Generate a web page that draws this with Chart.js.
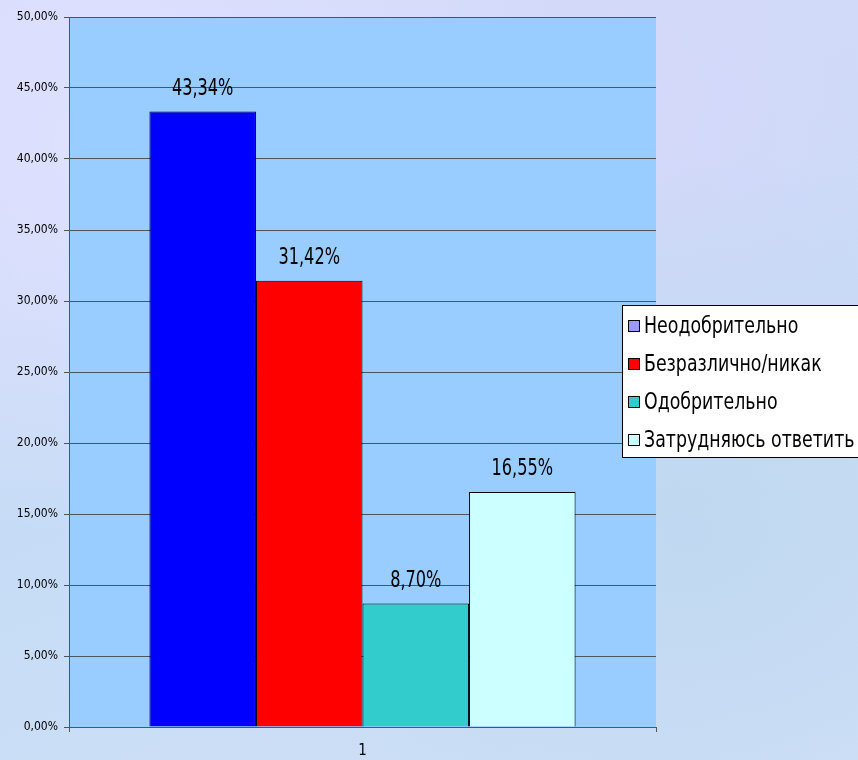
<!DOCTYPE html>
<html>
<head>
<meta charset="utf-8">
<script src="https://cdn.jsdelivr.net/npm/chart.js@4"></script>
<style>
  html, body { margin: 0; padding: 0; }
  body {
    width: 858px; height: 760px; overflow: hidden;
    background:
      radial-gradient(ellipse at 15% 20%, rgba(225,225,255,0.9), rgba(225,225,255,0) 45%),
      radial-gradient(ellipse at 80% 70%, rgba(190,215,240,0.8), rgba(190,215,240,0) 50%),
      radial-gradient(ellipse at 75% 15%, rgba(215,215,250,0.8), rgba(215,215,250,0) 45%),
      linear-gradient(160deg, #d6dcfa 0%, #c6dcf6 50%, #cfe0f6 100%);
  }
  #wrap { position: relative; width: 858px; height: 760px; }
</style>
</head>
<body>
<div id="wrap"><canvas id="myChart" width="858" height="760"></canvas></div>
<script>
const categories = ['1'];
const seriesNames = ['Неодобрительно', 'Безразлично/никак', 'Одобрительно', 'Затрудняюсь ответить'];
const seriesValues = [43.34, 31.42, 8.70, 16.55];
const barColors = ['#0000FF', '#FF0000', '#33CCCC', '#CCFFFF'];
const legendColors = ['#9999FF', '#FF0000', '#33CCCC', '#CCFFFF'];
const yTicks = [0, 5, 10, 15, 20, 25, 30, 35, 40, 45, 50];

const fontFamily = "'Liberation Sans Narrow', 'DejaVu Sans Condensed', 'Arial Narrow', sans-serif";

function pct(v) {
    return v.toFixed(2).replace('.', ',') + '%';
}

// text squeezed horizontally, to look like Arial Narrow
function narrowText(ctx, text, x, y, sx) {
    ctx.save();
    ctx.translate(x, y);
    ctx.scale(sx, 1);
    ctx.fillText(text, 0, 0);
    ctx.restore();
}

// plot area fill
const plotBg = {
    id: 'plotBg',
    beforeDraw(chart) {
        const {ctx, chartArea: a} = chart;
        ctx.save();
        ctx.fillStyle = '#99CCFF';
        ctx.fillRect(a.left, a.top, a.right - a.left, a.bottom - a.top);
        ctx.restore();
    }
};

// value labels above bars
const valueLabels = {
    id: 'valueLabels',
    afterDatasetsDraw(chart) {
        const ctx = chart.ctx;
        ctx.save();
        ctx.font = '23px ' + fontFamily;
        ctx.fillStyle = '#000';
        ctx.textAlign = 'center';
        ctx.textBaseline = 'bottom';
        chart.data.datasets.forEach((ds, i) => {
            const bar = chart.getDatasetMeta(i).data[0];
            narrowText(ctx, pct(ds.data[0]), bar.x, bar.y - 11, 0.78);
        });
        ctx.restore();
    }
};

// legend box overlapping the plot, like the original
const boxLegend = {
    id: 'boxLegend',
    afterDraw(chart) {
        const ctx = chart.ctx;
        const x = 622, y = 305, w = 240, h = 152, step = 38;
        ctx.save();
        ctx.fillStyle = '#FFFFFF';
        ctx.fillRect(x, y, w, h);
        ctx.strokeStyle = '#000';
        ctx.lineWidth = 1;
        ctx.strokeRect(x + 0.5, y + 0.5, w, h);
        ctx.font = '23px ' + fontFamily;
        ctx.textBaseline = 'middle';
        chart.data.datasets.forEach((ds, i) => {
            const cy = y + 21 + i * step;
            ctx.fillStyle = legendColors[i];
            ctx.fillRect(x + 6, cy - 6, 12, 12);
            ctx.strokeRect(x + 6.5, cy - 5.5, 11, 11);
            ctx.fillStyle = '#000';
            narrowText(ctx, ds.label, x + 22, cy + 1, 0.84);
        });
        ctx.restore();
    }
};

const ctx = document.getElementById('myChart').getContext('2d');

const myChart = new Chart(ctx, {
    type: 'bar',
    data: {
        labels: categories,
        datasets: seriesNames.map((name, i) => ({
            label: name,
            data: [seriesValues[i]],
            backgroundColor: barColors[i],
            borderColor: '#000',
            borderWidth: 1,
            categoryPercentage: 0.726,
            barPercentage: 1
        }))
    },
    options: {
        responsive: false,
        animation: false,
        layout: { padding: { top: 17, right: 202, left: 0, bottom: 0 } },
        plugins: {
            legend: { display: false },
            tooltip: { enabled: false }
        },
        scales: {
            x: {
                grid: { offset: true, drawOnChartArea: false, tickLength: 5, color: '#555' },
                border: { color: '#555' },
                ticks: { color: '#000', font: { family: fontFamily, size: 15 }, padding: 10 },
                afterFit(scale) { scale.height = 33; }
            },
            y: {
                min: 0,
                max: 50,
                afterBuildTicks(scale) { scale.ticks = yTicks.map(v => ({ value: v })); },
                grid: { color: '#4a5560', tickLength: 5, lineWidth: 1 },
                border: { color: '#555' },
                ticks: {
                    color: '#000',
                    font: { family: fontFamily, size: 12 },
                    padding: 6,
                    callback: v => pct(v)
                },
                afterFit(scale) { scale.width = 69; }
            }
        }
    },
    plugins: [plotBg, valueLabels, boxLegend]
});
</script>
</body>
</html>
